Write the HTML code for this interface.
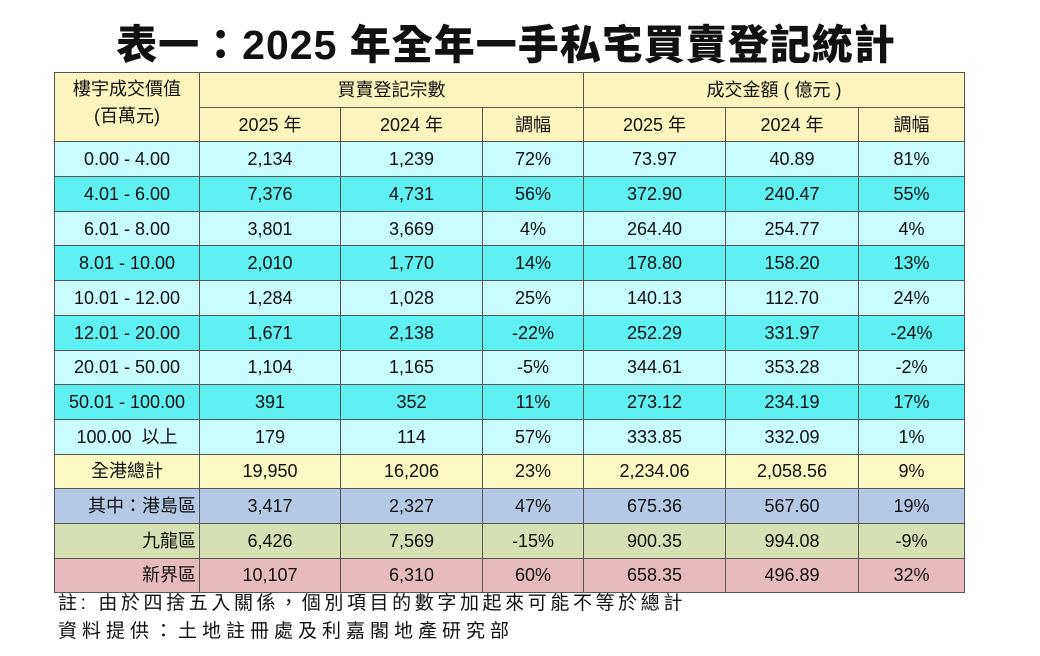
<!DOCTYPE html>
<html><head><meta charset="utf-8"><style>
body{margin:0;width:1040px;height:656px;background:#fff;position:relative;font-family:"Liberation Sans","Noto Sans CJK TC",sans-serif;overflow:hidden}
.title{position:absolute;left:0;width:1012px;top:20px;text-align:center;font-family:"Liberation Sans","Noto Sans CJK TC",sans-serif;font-weight:900;font-size:41px;line-height:50px;color:#111;letter-spacing:1px}
table{position:absolute;left:54px;top:72px;border-collapse:collapse;table-layout:fixed;width:910px}
td{border:1px solid #555;text-align:center;font-size:18px;color:#111;padding:0;height:33.7px;line-height:20px}
.h{background:#fbf5bd}
.a td{background:#c8fcfd}
.b td{background:#5ef0f3}
.t td{background:#fbfac2}
.hk td{background:#b6c9e4}
.kl td{background:#d5e1b3}
.nt td{background:#e8b9bd}
.r{text-align:right;padding-right:3px}
.note{position:absolute;left:58px;font-size:19px;color:#111;letter-spacing:3px;line-height:24px}
</style></head><body>
<div class="title">表一：2025 年全年一手私宅買賣登記統計</div>
<table>
<colgroup><col style="width:145px"><col style="width:141px"><col style="width:142px"><col style="width:101px"><col style="width:142px"><col style="width:133px"><col style="width:106px"></colgroup>
<tr><td class="h" rowspan="2" style="vertical-align:top;padding-top:3px;line-height:27px">樓宇成交價值<br>(百萬元)</td><td class="h" colspan="3" style="height:30px">買賣登記宗數</td><td class="h" colspan="3">成交金額 ( 億元 )</td></tr>
<tr><td class="h" style="height:33px">2025 年</td><td class="h">2024 年</td><td class="h">調幅</td><td class="h">2025 年</td><td class="h">2024 年</td><td class="h">調幅</td></tr>
<tr class="a"><td>0.00 - 4.00</td><td>2,134</td><td>1,239</td><td>72%</td><td>73.97</td><td>40.89</td><td>81%</td></tr>
<tr class="b"><td>4.01 - 6.00</td><td>7,376</td><td>4,731</td><td>56%</td><td>372.90</td><td>240.47</td><td>55%</td></tr>
<tr class="a"><td>6.01 - 8.00</td><td>3,801</td><td>3,669</td><td>4%</td><td>264.40</td><td>254.77</td><td>4%</td></tr>
<tr class="b"><td>8.01 - 10.00</td><td>2,010</td><td>1,770</td><td>14%</td><td>178.80</td><td>158.20</td><td>13%</td></tr>
<tr class="a"><td>10.01 - 12.00</td><td>1,284</td><td>1,028</td><td>25%</td><td>140.13</td><td>112.70</td><td>24%</td></tr>
<tr class="b"><td>12.01 - 20.00</td><td>1,671</td><td>2,138</td><td>-22%</td><td>252.29</td><td>331.97</td><td>-24%</td></tr>
<tr class="a"><td>20.01 - 50.00</td><td>1,104</td><td>1,165</td><td>-5%</td><td>344.61</td><td>353.28</td><td>-2%</td></tr>
<tr class="b"><td>50.01 - 100.00</td><td>391</td><td>352</td><td>11%</td><td>273.12</td><td>234.19</td><td>17%</td></tr>
<tr class="a"><td>100.00&nbsp; 以上</td><td>179</td><td>114</td><td>57%</td><td>333.85</td><td>332.09</td><td>1%</td></tr>
<tr class="t"><td>全港總計</td><td>19,950</td><td>16,206</td><td>23%</td><td>2,234.06</td><td>2,058.56</td><td>9%</td></tr>
<tr class="hk"><td class="r">其中：港島區</td><td>3,417</td><td>2,327</td><td>47%</td><td>675.36</td><td>567.60</td><td>19%</td></tr>
<tr class="kl"><td class="r">九龍區</td><td>6,426</td><td>7,569</td><td>-15%</td><td>900.35</td><td>994.08</td><td>-9%</td></tr>
<tr class="nt"><td class="r">新界區</td><td>10,107</td><td>6,310</td><td>60%</td><td>658.35</td><td>496.89</td><td>32%</td></tr>
</table>
<div class="note" style="top:592px;letter-spacing:3.6px">註: 由於四捨五入關係，個別項目的數字加起來可能不等於總計</div>
<div class="note" style="top:620px;letter-spacing:5px">資料提供：土地註冊處及利嘉閣地產研究部</div>
</body></html>
